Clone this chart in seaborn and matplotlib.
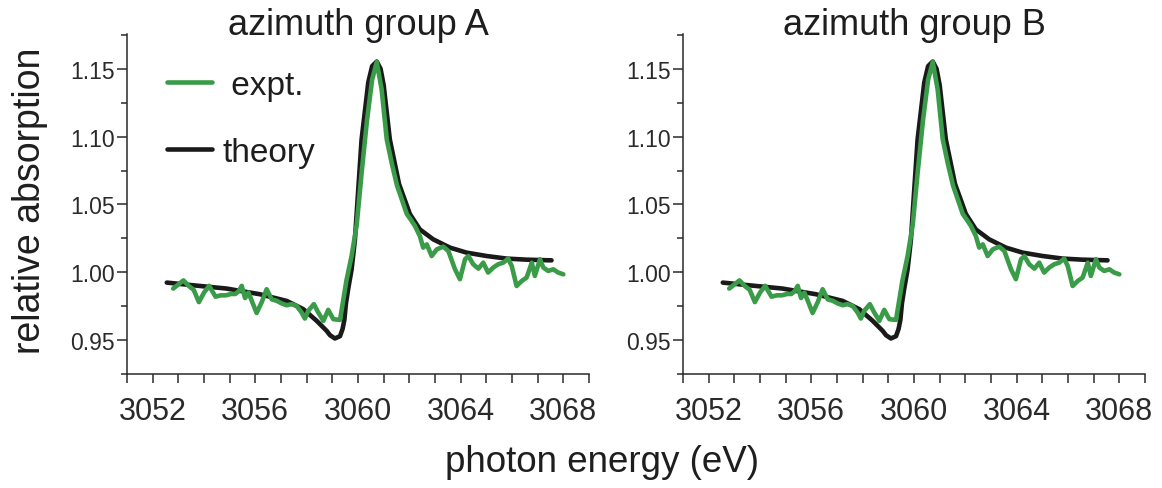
import numpy as np
import pandas as pd
import matplotlib
matplotlib.use("Agg")
import matplotlib.pyplot as plt
from matplotlib.ticker import MultipleLocator, FormatStrFormatter
import seaborn as sns

# ---- data ----
groups = ["azimuth group A", "azimuth group B"]

expt_energy = [3052.80, 3053.00, 3053.20, 3053.40, 3053.60, 3053.80, 3054.00, 3054.20,
               3054.45, 3054.65, 3054.85, 3055.05, 3055.22, 3055.35, 3055.47, 3055.60,
               3055.73, 3055.86, 3056.05, 3056.25, 3056.44, 3056.64, 3056.83, 3057.03,
               3057.22, 3057.41, 3057.61, 3057.80, 3057.93, 3058.06, 3058.28, 3058.45,
               3058.65, 3058.84, 3059.04, 3059.30, 3059.55, 3059.75, 3059.95, 3060.15,
               3060.35, 3060.55, 3060.73, 3060.92, 3061.12, 3061.32, 3061.52, 3061.72,
               3061.90, 3062.05, 3062.22, 3062.41, 3062.54, 3062.68, 3062.87, 3063.07,
               3063.32, 3063.52, 3063.78, 3063.97, 3064.17, 3064.30, 3064.49, 3064.69,
               3064.88, 3065.07, 3065.27, 3065.46, 3065.66, 3065.85, 3065.99, 3066.18,
               3066.38, 3066.57, 3066.77, 3066.89, 3067.09, 3067.22, 3067.41, 3067.61,
               3067.80, 3068.00]
expt_absorption = [0.988, 0.991, 0.994, 0.990, 0.987, 0.978, 0.985, 0.990,
                   0.982, 0.983, 0.983, 0.984, 0.984, 0.986, 0.990, 0.981,
                   0.985, 0.979, 0.970, 0.978, 0.9875, 0.980, 0.979, 0.977,
                   0.9757, 0.9765, 0.9752, 0.9704, 0.9659, 0.9716, 0.9765, 0.9704,
                   0.9642, 0.9723, 0.9654, 0.9649, 0.994, 1.012, 1.035, 1.075,
                   1.112, 1.142, 1.155, 1.135, 1.098, 1.080, 1.064, 1.053,
                   1.043, 1.039, 1.0341, 1.0267, 1.0182, 1.0206, 1.012, 1.0169,
                   1.0189, 1.0157, 1.0022, 0.9949, 1.0096, 1.012, 1.0059, 1.0027,
                   1.0071, 0.9998, 1.0035, 1.0059, 1.0071, 1.0101, 1.0046, 0.9899,
                   0.9936, 0.9961, 1.0071, 0.9973, 1.0096, 1.0035, 1.001, 1.0022,
                   0.9998, 0.9985]

theory_energy = [3052.55, 3053.58, 3054.88, 3056.18, 3057.22, 3057.87, 3058.39, 3058.78,
                 3058.91, 3059.10, 3059.30, 3059.40, 3059.47, 3059.53, 3059.62, 3059.75,
                 3059.88, 3060.14, 3060.40, 3060.55, 3060.73, 3060.88, 3061.00, 3061.24,
                 3061.60, 3061.85, 3062.02, 3062.41, 3062.93, 3063.58, 3064.23, 3065.01,
                 3065.79, 3066.57, 3067.54]
theory_absorption = [0.9924, 0.9904, 0.9880, 0.9838, 0.9789, 0.9728, 0.9642, 0.9568,
                     0.9536, 0.9512, 0.9529, 0.9583, 0.9650, 0.9770, 0.9880, 1.0020,
                     1.024, 1.098, 1.140, 1.152, 1.1554, 1.150, 1.138, 1.098,
                     1.065, 1.052, 1.043, 1.0316, 1.0243, 1.0182, 1.0145, 1.012,
                     1.0101, 1.0093, 1.0088]

series_labels = [" expt.", "theory"]
green = "#3a9b48"
black = "#1a1a1a"
text_color = "#1e1e1e"

expt_df = pd.DataFrame({"energy": expt_energy, "absorption": expt_absorption})
theory_df = pd.DataFrame({"energy": theory_energy, "absorption": theory_absorption})

# ---- style ----
sns.set_theme(style="ticks")
plt.rcParams["font.family"] = ["Liberation Sans", "DejaVu Sans"]
plt.rcParams["text.color"] = text_color
plt.rcParams["axes.labelcolor"] = text_color
plt.rcParams["xtick.color"] = "#2a2a2a"
plt.rcParams["ytick.color"] = "#2a2a2a"

W, H = 1162, 489
fig = plt.figure(figsize=(W / 100, H / 100), dpi=100)

ax_w = 462 / W
ax_h = 340 / H
ax_bottom = 1 - 375 / H
lefts = [127 / W, 683 / W]

for i, (name, left) in enumerate(zip(groups, lefts)):
    ax = fig.add_axes([left, ax_bottom, ax_w, ax_h])
    sns.lineplot(data=theory_df, x="energy", y="absorption", ax=ax, color=black,
                 lw=3.3, estimator=None, sort=False, label=series_labels[1])
    sns.lineplot(data=expt_df, x="energy", y="absorption", ax=ax, color=green,
                 lw=3.3, estimator=None, sort=False, label=series_labels[0])
    ax.set_xlim(3051, 3069)
    ax.set_ylim(0.925, 1.1757)
    ax.xaxis.set_major_locator(MultipleLocator(4))
    ax.xaxis.set_minor_locator(MultipleLocator(1))
    ax.yaxis.set_major_locator(MultipleLocator(0.05))
    ax.yaxis.set_minor_locator(MultipleLocator(0.025))
    ax.yaxis.set_major_formatter(FormatStrFormatter("%.2f"))
    ax.tick_params(axis="x", which="both", direction="out", length=6.5, width=1.1,
                   labelsize=22, pad=9)
    ax.tick_params(axis="y", which="major", direction="out", length=7, width=1.1,
                   labelsize=16.5, pad=1.5)
    ax.tick_params(axis="y", which="minor", direction="out", length=4, width=1.1)
    for s in ["top", "right"]:
        ax.spines[s].set_visible(False)
    for s in ["left", "bottom"]:
        ax.spines[s].set_linewidth(1.1)
        ax.spines[s].set_color("#2a2a2a")
    ax.set_xlabel("")
    ax.set_ylabel("")
    ax.text(0.5, 1.0, name, transform=ax.transAxes, ha="center", va="baseline",
            fontsize=26, color=text_color)
    handles, labels = ax.get_legend_handles_labels()
    if i == 0:
        order = [labels.index(series_labels[0]), labels.index(series_labels[1])]
        ax.legend([handles[k] for k in order], [labels[k] for k in order],
                  loc="upper left", bbox_to_anchor=(0.0866, 0.895),
                  frameon=False, fontsize=24, handlelength=1.35,
                  handletextpad=0.3, labelspacing=1.08, borderpad=0,
                  borderaxespad=0)
    else:
        ax.get_legend().remove()

fig.text(30 / W, 1 - 201 / H, "relative absorption", rotation=90,
         ha="center", va="center", fontsize=27)
fig.text(602 / W, 1 - 463 / H, "photon energy (eV)", ha="center", va="center",
         fontsize=26.5)

fig.savefig("out.png", dpi=100)
